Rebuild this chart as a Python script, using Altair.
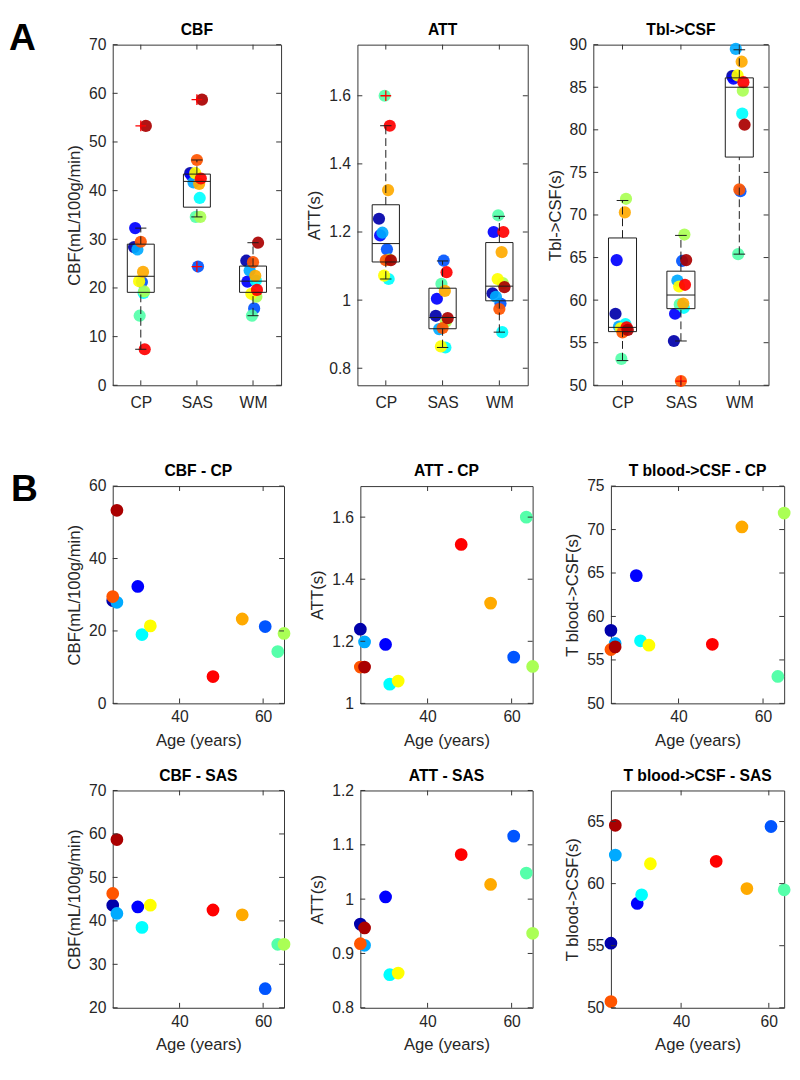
import json
import altair as alt
import pandas as pd

# ---------------- data ----------------
SUBJECTS = ["S01", "S02", "S03", "S04", "S05", "S06", "S07", "S08", "S09", "S10", "S11", "S12"]
AGE = [24, 30, 60.5, 25, 31, 63.5, 65, 33, 55, 24, 48, 25]
JITTER = [-0.12, -0.10, 0.02, -0.06, 0.05, -0.02, 0.06, -0.03, 0.04, 0.0, 0.07, 0.09]
CATEGORIES = ["CP", "SAS", "WM"]

CBF_CP = [28.4, 32.3, 21.2, 27.9, 19.0, 14.3, 19.3, 21.4, 23.3, 29.5, 7.4, 53.3]
CBF_SAS = [43.6, 43.2, 24.4, 41.7, 38.5, 34.6, 34.6, 43.6, 41.4, 46.3, 42.5, 58.7]
CBF_WM = [25.6, 21.3, 15.8, 23.6, 21.5, 14.3, 18.2, 18.8, 22.5, 25.3, 19.6, 29.3]

ATT_CP = [1.239, 1.19, 1.149, 1.198, 1.062, 1.6, 1.119, 1.072, 1.323, 1.117, 1.512, 1.117]
ATT_SAS = [0.954, 1.004, 1.116, 0.915, 0.861, 1.048, 0.937, 0.864, 1.027, 0.918, 1.082, 0.947]
ATT_WM = [1.02, 1.2, 0.99, 1.01, 0.906, 1.249, 1.05, 1.062, 1.141, 0.974, 1.2, 1.038]

T_CP = [58.4, 64.7, None, 56.9, 57.2, 53.1, 71.9, 56.7, 70.3, 56.2, 56.8, 56.5]
T_SAS = [55.2, 58.4, 64.6, 62.3, 59.1, 59.5, 67.7, 61.6, 59.6, 50.5, 61.8, 64.7]
T_WM = [86.3, 86.0, 72.8, 89.5, 81.9, 65.4, 84.6, 86.4, 88.0, 73.0, 85.6, 80.6]

# box-plot statistics per category (CP, SAS, WM)
CBF_Q1 = [19.1, 36.6, 19.1]
CBF_MED = [22.4, 41.9, 21.4]
CBF_Q3 = [29.0, 43.4, 24.5]
CBF_LO = [7.4, 34.6, 14.3]
CBF_HI = [32.3, 46.3, 29.3]
CBF_OUT_CAT = ["CP", "SAS", "SAS"]
CBF_OUT_VAL = [53.3, 58.7, 24.4]

ATT_Q1 = [1.112, 0.916, 0.998]
ATT_MED = [1.166, 0.949, 1.041]
ATT_Q3 = [1.28, 1.035, 1.169]
ATT_LO = [1.062, 0.861, 0.906]
ATT_HI = [1.512, 1.115, 1.246]
ATT_OUT_CAT = ["CP"]
ATT_OUT_VAL = [1.6]

T_Q1 = [56.3, 59.0, 76.8]
T_MED = [56.8, 60.6, 85.0]
T_Q3 = [67.3, 63.4, 86.1]
T_LO = [52.9, 55.2, 65.4]
T_HI = [71.7, 67.6, 89.4]
T_OUT_CAT = ["SAS"]
T_OUT_VAL = [50.5]

# axis ticks
CBF_A_TICKS = [0, 10, 20, 30, 40, 50, 60, 70]
ATT_A_TICKS = [0.8, 1.0, 1.2, 1.4, 1.6]
T_A_TICKS = [50, 55, 60, 65, 70, 75, 80, 85, 90]
AGE_TICKS = [40, 60]

# ---------------- style ----------------
JET = ["#0000AA", "#0000FF", "#0055FF", "#00AAFF", "#00FFFF", "#55FFAA",
       "#AAFF55", "#FFFF00", "#FFAA00", "#FF5500", "#FF0000", "#AA0000"]
FONT = "Liberation Sans"
FRAME = "#333333"
LINE = "#1a1a1a"
TICKLEN = 5
COLOR = alt.Color("subject:N", scale=alt.Scale(domain=SUBJECTS, range=JET), legend=None)
NUMFMT = "toString(datum.value)"


def frame_ticks(xticks, yticks, xscale, yscale, xaxis, yaxis, W, H):
    yt = alt.Chart(pd.DataFrame({"t": yticks}))
    xt = alt.Chart(pd.DataFrame({"t": xticks}))
    rule = dict(color=FRAME, strokeWidth=1)
    Y = alt.Y("t:Q", scale=yscale, axis=yaxis)
    X = alt.X("t:Q", scale=xscale, axis=xaxis)
    return [
        yt.mark_rule(**rule).encode(y=Y, x=alt.value(0), x2=alt.value(TICKLEN)),
        yt.mark_rule(**rule).encode(y=Y, x=alt.value(W - TICKLEN), x2=alt.value(W)),
        xt.mark_rule(**rule).encode(x=X, y=alt.value(H), y2=alt.value(H - TICKLEN)),
        xt.mark_rule(**rule).encode(x=X, y=alt.value(0), y2=alt.value(TICKLEN)),
    ]


def title_layer(text, W):
    return alt.Chart(pd.DataFrame({"t": [text]})).mark_text(
        font=FONT, fontSize=16, fontWeight="bold", color="black",
        align="center", baseline="bottom"
    ).encode(text="t:N", x=alt.value(W / 2), y=alt.value(-7))


def letter_layer(letter, dx, dy, visible=True):
    return alt.Chart(pd.DataFrame({"t": [letter]})).mark_text(
        font=FONT, fontSize=38, fontWeight="bold", color="black",
        align="left", baseline="top", opacity=1 if visible else 0
    ).encode(text="t:N", x=alt.value(dx), y=alt.value(dy))


def a_panel(title, ytitle, vals, q1, med, q3, lo, hi, out_cat, out_val,
            ydom, yticks, W, H, letter=None):
    rows = []
    for ci, cat in enumerate(CATEGORIES):
        for si, subj in enumerate(SUBJECTS):
            v = vals[ci][si]
            if v is None:
                continue
            rows.append(dict(subject=subj, pos=ci + 1, jit=JITTER[si], value=v))
    pts = pd.DataFrame(rows)
    box = pd.DataFrame(dict(cat=CATEGORIES, pos=list(range(1, len(CATEGORIES) + 1)),
                            q1=q1, med=med, q3=q3, lo=lo, hi=hi))
    outs = pd.DataFrame(dict(pos=[CATEGORIES.index(c) + 1 for c in out_cat], value=out_val))

    xscale = alt.Scale(domain=[0.5, len(CATEGORIES) + 0.5], nice=False, zero=False)
    yscale = alt.Scale(domain=ydom, nice=False, zero=False)
    xaxis = alt.Axis(title=None, values=list(range(1, len(CATEGORIES) + 1)),
                     labelExpr=json.dumps(CATEGORIES) + "[datum.value - 1]",
                     labelPadding=10, labelAngle=0)
    yaxis = alt.Axis(title=ytitle, values=yticks, labelExpr=NUMFMT, labelPadding=7, titlePadding=5)

    points = alt.Chart(pts).transform_calculate(xp="datum.pos + datum.jit").mark_circle(
        size=155, opacity=0.92).encode(
        x=alt.X("xp:Q", scale=xscale, axis=xaxis),
        y=alt.Y("value:Q", scale=yscale, axis=yaxis),
        color=COLOR,
    )
    bb = alt.Chart(box).transform_calculate(
        xa="datum.pos - 0.24", xb="datum.pos + 0.24",
        ca="datum.pos - 0.1", cb="datum.pos + 0.1")
    XA = alt.X("xa:Q", scale=xscale, axis=xaxis)
    CA = alt.X("ca:Q", scale=xscale, axis=xaxis)
    XP = alt.X("pos:Q", scale=xscale, axis=xaxis)

    def Yf(f):
        return alt.Y(f, scale=yscale, axis=yaxis)

    rect = bb.mark_rect(fillOpacity=0, stroke=LINE, strokeWidth=1).encode(
        x=XA, x2="xb:Q", y=Yf("q1:Q"), y2="q3:Q")
    median = bb.mark_rule(color=LINE, strokeWidth=1).encode(
        x=XA, x2="xb:Q", y=Yf("med:Q"))
    wu = bb.mark_rule(color=LINE, strokeWidth=1, strokeDash=[8, 4]).encode(
        x=XP, y=Yf("q3:Q"), y2="hi:Q")
    wl = bb.mark_rule(color=LINE, strokeWidth=1, strokeDash=[8, 4]).encode(
        x=XP, y=Yf("lo:Q"), y2="q1:Q")
    cu = bb.mark_rule(color=LINE, strokeWidth=1).encode(
        x=CA, x2="cb:Q", y=Yf("hi:Q"))
    cl = bb.mark_rule(color=LINE, strokeWidth=1).encode(
        x=CA, x2="cb:Q", y=Yf("lo:Q"))
    outl = alt.Chart(outs).mark_point(
        shape="M-1,0L1,0M0,-1L0,1", filled=False, color="red", strokeWidth=1.3,
        size=120, opacity=1).encode(x=XP, y=Yf("value:Q"))

    layers = [points, rect, median, wu, wl, cu, cl, outl]
    layers += frame_ticks(list(range(1, len(CATEGORIES) + 1)), yticks, xscale, yscale,
                          xaxis, yaxis, W, H)
    layers.append(title_layer(title, W))
    if letter:
        layers.append(letter_layer(letter, -106, -25))
    return alt.layer(*layers).properties(width=W, height=H)


def b_panel(title, ytitle, vals, xdom, ydom, yticks, W, H, letter=None, ghost=None):
    df = pd.DataFrame(dict(subject=SUBJECTS, age=AGE, value=vals)).dropna()
    xscale = alt.Scale(domain=xdom, nice=False, zero=False)
    yscale = alt.Scale(domain=ydom, nice=False, zero=False)
    xaxis = alt.Axis(title="Age (years)", values=AGE_TICKS, labelPadding=6, titlePadding=8)
    yaxis = alt.Axis(title=ytitle, values=yticks, labelExpr=NUMFMT, labelPadding=7, titlePadding=5)
    points = alt.Chart(df).transform_filter(
        f"datum.age >= {xdom[0]} && datum.age <= {xdom[1]}"
    ).mark_circle(size=170, opacity=1).encode(
        x=alt.X("age:Q", scale=xscale, axis=xaxis),
        y=alt.Y("value:Q", scale=yscale, axis=yaxis),
        color=COLOR,
    )
    layers = [points] + frame_ticks(AGE_TICKS, yticks, xscale, yscale, xaxis, yaxis, W, H)
    layers.append(title_layer(title, W))
    if letter:
        layers.append(letter_layer(letter, -104, -15))
    if ghost:
        layers.append(letter_layer(ghost, -104, -15, visible=False))
    return alt.layer(*layers).properties(width=W, height=H)


HA = 348
HB = 222
CBF_LABEL = "CBF(mL/100g/min)"
ATT_LABEL = "ATT(s)"

pA1 = a_panel("CBF", CBF_LABEL, [CBF_CP, CBF_SAS, CBF_WM], CBF_Q1, CBF_MED, CBF_Q3,
              CBF_LO, CBF_HI, CBF_OUT_CAT, CBF_OUT_VAL, [0, 70], CBF_A_TICKS, 172, HA, letter="A")
pA2 = a_panel("ATT", ATT_LABEL, [ATT_CP, ATT_SAS, ATT_WM], ATT_Q1, ATT_MED, ATT_Q3,
              ATT_LO, ATT_HI, ATT_OUT_CAT, ATT_OUT_VAL, [0.75, 1.75], ATT_A_TICKS, 174, HA)
pA3 = a_panel("Tbl->CSF", "Tbl->CSF(s)", [T_CP, T_SAS, T_WM], T_Q1, T_MED, T_Q3,
              T_LO, T_HI, T_OUT_CAT, T_OUT_VAL, [50, 90], T_A_TICKS, 179, HA)

pB1 = b_panel("CBF - CP", CBF_LABEL, CBF_CP, [24, 65], [0, 60], [0, 20, 40, 60], 175, HB, letter="B")
pB2 = b_panel("ATT - CP", ATT_LABEL, ATT_CP, [24, 65], [1, 1.7], [1.0, 1.2, 1.4, 1.6], 176, HB)
pB3 = b_panel("T blood->CSF - CP", "T blood->CSF(s)", T_CP, [24, 65], [50, 75],
              [50, 55, 60, 65, 70, 75], 177, HB)

pC1 = b_panel("CBF - SAS", CBF_LABEL, CBF_SAS, [24, 65], [20, 70], [20, 30, 40, 50, 60, 70],
              175, HB, ghost="B")
pC2 = b_panel("ATT - SAS", ATT_LABEL, ATT_SAS, [24, 65], [0.8, 1.2], [0.8, 0.9, 1.0, 1.1, 1.2], 176, HB)
pC3 = b_panel("T blood->CSF - SAS", "T blood->CSF(s)", T_SAS, [24, 63.5], [50, 67.5],
              [50, 55, 60, 65], 177, HB)

rowA = alt.hconcat(pA1, alt.hconcat(pA2, pA3, spacing=17), spacing=24)
rowB = alt.hconcat(pB1, alt.hconcat(pB2, pB3, spacing=23), spacing=17)
rowC = alt.hconcat(pC1, alt.hconcat(pC2, pC3, spacing=23), spacing=17)

chart = alt.vconcat(
    rowA,
    alt.vconcat(rowB, rowC, spacing=18),
    spacing=52,
).properties(padding=0).configure_view(
    stroke=FRAME, strokeWidth=1
).configure_axis(
    labelFont=FONT, titleFont=FONT, labelFontSize=16, titleFontSize=17,
    labelColor="#262626", titleColor="#262626", titleFontWeight="normal",
    ticks=False, domain=False, grid=False,
)

chart.save("out.html", embed_options={"renderer": "svg", "actions": False})
